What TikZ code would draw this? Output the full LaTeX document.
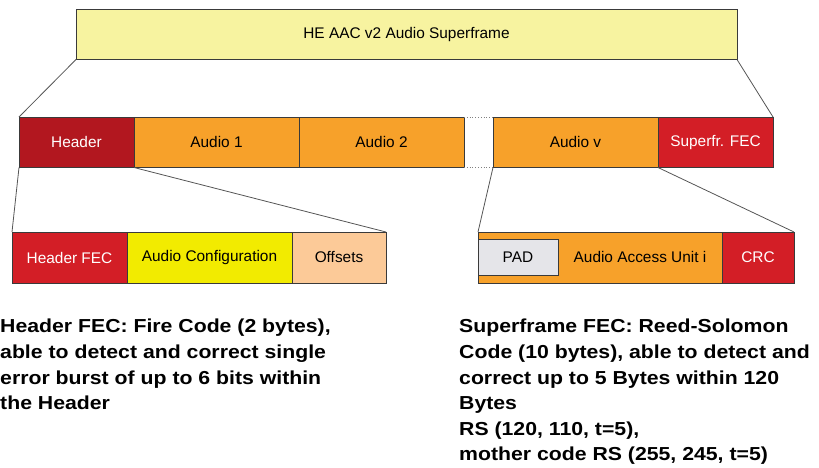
\documentclass[tikz,border=0pt]{standalone}
\usepackage{fontspec}
\setmainfont{Liberation Sans}
\newfontfamily\parafont[FakeStretch=1.13]{Liberation Sans}
\usetikzlibrary{calc}
\definecolor{topyellow}{HTML}{F7F3A0}
\definecolor{hdrred}{HTML}{B2171F}
\definecolor{audorange}{HTML}{F7A12A}
\definecolor{fecred}{HTML}{D31E26}
\definecolor{cfgyellow}{HTML}{F2EB00}
\definecolor{offpeach}{HTML}{FCCA98}
\definecolor{padgray}{HTML}{E5E5E9}
\definecolor{edge}{HTML}{3A3A3A}
\definecolor{link}{HTML}{555555}
\tikzset{
  lab/.style={font=\fontsize{15.4}{18}\selectfont},
  blk/.style={draw=edge, line width=0.8pt, inner sep=0pt, outer sep=0pt,
    anchor=north west, lab},
  rowtwo/.style={blk, minimum height=50.5pt},
  rowthree/.style={blk, minimum height=51pt},
  zoomline/.style={draw=link, line width=0.8pt},
  gapline/.style={draw=gray, line width=0.8pt, dotted},
  para/.style={anchor=north west, inner sep=0pt, align=left,
    font=\parafont\bfseries\fontsize{18.8}{25.6}\selectfont}
}
\begin{document}
\begin{tikzpicture}[x=1pt, y=-1pt]
\useasboundingbox (0,0) rectangle (819,468);

% superframe
\node[blk, fill=topyellow, minimum width=661pt, minimum height=50.5pt]
  (top) at (76,9) {\raisebox{-1.5pt}{HE AAC v2 Audio Superframe}};

% superframe contents
\node[rowtwo, fill=hdrred, text=white, minimum width=115pt] (hdr) at (19,117) {Header};
\node[rowtwo, fill=audorange, minimum width=165pt] (au1) at (134,117) {Audio 1};
\node[rowtwo, fill=audorange, minimum width=165pt] (au2) at (299,117) {Audio 2};
\node[rowtwo, fill=audorange, minimum width=165pt] (auv) at (493,117) {Audio v};
\node[rowtwo, fill=fecred, text=white, minimum width=115pt] (fec) at (658,117) {Superfr. FEC};
\draw[gapline] (au2.north east) -- (auv.north west);
\draw[gapline] (au2.south east) -- (auv.south west);

% header contents
\node[rowthree, fill=fecred, text=white, minimum width=115pt] (hfec) at (12,232) {Header FEC};
\node[rowthree, fill=cfgyellow, minimum width=165pt] (cfg) at (127,232) {Audio Configuration};
\node[rowthree, fill=offpeach, minimum width=94pt] (offs) at (292,232) {Offsets};

% audio frame contents
\node[rowthree, fill=audorange, minimum width=244pt] (aau) at (478,232) {};
\node[blk, fill=padgray, minimum width=80pt, minimum height=36pt] (pad) at (478,239) {PAD};
\node[lab, inner sep=0pt] (aautext) at ($(pad.east)!0.5!(aau.east)$) {Audio Access Unit i};
\node[rowthree, fill=fecred, text=white, minimum width=72pt] (crc) at (722,232) {CRC};

% zoom connectors
\draw[zoomline] (top.south west) -- (hdr.north west);
\draw[zoomline] (top.south east) -- (fec.north east);
\draw[zoomline] (hdr.south west) -- (hfec.north west);
\draw[zoomline] (hdr.south east) -- (offs.north east);
\draw[zoomline] (auv.south west) -- (aau.north west);
\draw[zoomline] (auv.south east) -- (crc.north east);

% notes
\node[para] (hnote) at (0,319) {Header FEC: Fire Code (2 bytes),\\
able to detect and correct single\\
error burst of up to 6 bits within\\
the Header};
\node[para] (snote) at (459,319) {Superframe FEC: Reed-Solomon\\
Code (10 bytes), able to detect and\\
correct up to 5 Bytes within 120\\
Bytes\\
RS (120, 110, t=5),\\
mother code RS (255, 245, t=5)};
\end{tikzpicture}
\end{document}
